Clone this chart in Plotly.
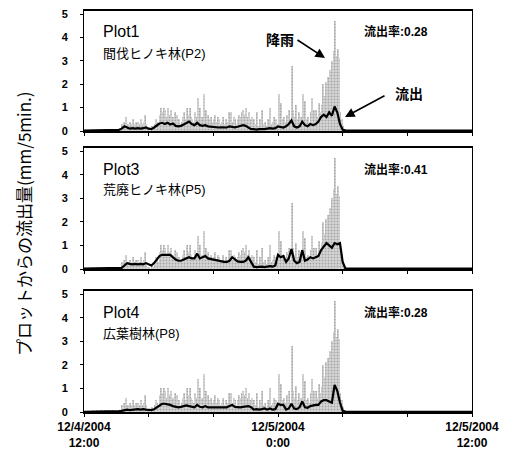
import numpy as np
import pandas as pd
import plotly.graph_objects as go

# ---------------- data ----------------
start = pd.Timestamp("2004-12-04 12:00")
end = pd.Timestamp("2004-12-05 12:00")

# rainfall, mm / 5 min, from 12/4 12:00 (5-minute steps)
rain = [
    0, 0, 0, 0, 0, 0, 0.1, 0, 0, 0.1, 0, 0,
    0.1, 0, 0, 0.1, 0, 0, 0.1, 0, 0, 0.1, 0, 0,
    0, 0, 0, 0.1, 0.3, 0.4, 0.2, 0.6, 0.3, 0.2, 0.4, 0.3,
    0.5, 0.3, 0.4, 0.2, 0.4, 0.3, 0.5, 0.3, 0.4, 0.7, 0.3, 0.1,
    0.1, 0, 0.2, 0.1, 0.3, 0.5, 0.4, 0.3, 0.7, 1.0, 0.8, 1.0,
    0.9, 0.6, 1.0, 0.7, 0.9, 0.5, 0.6, 0.8, 0.4, 0.7, 0.5, 0.3,
    0.4, 0.6, 0.8, 0.5, 1.0, 0.7, 1.0, 0.6, 0.5, 0.4, 0.8, 0.6,
    1.4, 0.8, 1.0, 0.6, 0.5, 1.6, 0.9, 0.6, 0.7, 0.5, 0.6, 0.4,
    0.5, 0.7, 0.4, 0.6, 0.5, 0.3, 0.4, 0.6, 0.3, 0.5, 0.4, 0.8,
    0.7, 0.8, 0.4, 0.6, 0.5, 0.3, 0.5, 0.7, 0.6, 0.8, 0.9, 0.7,
    1.0, 0.6, 0.8, 0.5, 0.6, 0.4, 0.5, 0.3, 0.8, 0.2, 0.5, 0.3,
    0.9, 0.3, 0.4, 0.2, 0.5, 0.3, 1.0, 0.3, 0.4, 0.6, 0.5, 0.3,
    1.6, 0.8, 1.2, 0.5, 0.6, 0.4, 0.7, 0.5, 0.9, 0.4, 2.8, 0.9,
    0.6, 1.1, 0.5, 0.8, 0.4, 0.6, 1.6, 0.9, 1.3, 0.5, 0.6, 0.4,
    0.8, 1.4, 0.9, 0.7, 0.9, 0.6, 1.2, 0.8, 1.1, 2.0, 1.5, 2.1,
    1.8, 2.3, 2.6, 1.9, 3.0, 3.4, 4.7, 3.2, 3.5, 3.1, 0.8, 0.5,
    0.2, 0.1, 0, 0, 0, 0,
]

# runoff, mm / 5 min, sampled every 10 minutes from 12/4 12:00
runoff_p2 = [
    0.02, 0.02, 0.02, 0.02, 0.03, 0.03,
    0.03, 0.03, 0.03, 0.04, 0.04, 0.04,
    0.04, 0.05, 0.10, 0.20, 0.15, 0.10,
    0.12, 0.10, 0.12, 0.10, 0.12, 0.15,
    0.10, 0.08, 0.15, 0.25, 0.32, 0.35,
    0.30, 0.35, 0.28, 0.32, 0.22, 0.20,
    0.22, 0.28, 0.35, 0.40, 0.30, 0.25,
    0.35, 0.25, 0.22, 0.25, 0.20, 0.18,
    0.18, 0.16, 0.15, 0.16, 0.15, 0.15,
    0.20, 0.18, 0.16, 0.18, 0.20, 0.25,
    0.22, 0.15, 0.08, 0.08, 0.06, 0.08,
    0.07, 0.08, 0.10, 0.12, 0.10, 0.12,
    0.20, 0.18, 0.15, 0.20, 0.30, 0.45,
    0.20, 0.15, 0.20, 0.40, 0.25, 0.20,
    0.30, 0.25, 0.30, 0.40, 0.60, 0.70,
    0.60, 0.80, 0.65, 1.05, 0.80, 0.30,
    0.05, 0.03, 0.02, 0.02, 0.02, 0.02,
    0.02, 0.02, 0.02, 0.02, 0.02, 0.02,
    0.02, 0.02, 0.02, 0.02, 0.02, 0.02,
    0.02, 0.02, 0.02, 0.02, 0.02, 0.02,
    0.02, 0.02, 0.02, 0.02, 0.02, 0.02,
    0.02, 0.02, 0.02, 0.02, 0.02, 0.02,
    0.02, 0.02, 0.02, 0.02, 0.02, 0.02,
    0.02, 0.02, 0.02, 0.02, 0.02, 0.02,
    0.02,
]
runoff_p5 = [
    0.02, 0.02, 0.02, 0.02, 0.02, 0.02,
    0.02, 0.02, 0.03, 0.03, 0.03, 0.03,
    0.03, 0.04, 0.05, 0.15, 0.25, 0.22,
    0.20, 0.22, 0.20, 0.22, 0.20, 0.25,
    0.20, 0.15, 0.25, 0.40, 0.55, 0.60,
    0.60, 0.58, 0.60, 0.50, 0.40, 0.35,
    0.35, 0.40, 0.45, 0.50, 0.45, 0.45,
    0.65, 0.45, 0.50, 0.55, 0.45, 0.42,
    0.40, 0.38, 0.35, 0.32, 0.30, 0.30,
    0.35, 0.50, 0.40, 0.32, 0.30, 0.30,
    0.35, 0.50, 0.30, 0.10, 0.08, 0.10,
    0.10, 0.08, 0.10, 0.12, 0.10, 0.15,
    0.60, 0.50, 0.55, 0.30, 0.45, 0.85,
    0.35, 0.25, 0.30, 0.80, 0.35, 0.40,
    0.50, 0.45, 0.50, 0.55, 0.80, 0.95,
    1.10, 1.00, 0.90, 1.10, 1.05, 1.10,
    0.30, 0.02, 0.02, 0.02, 0.02, 0.02,
    0.02, 0.02, 0.02, 0.02, 0.02, 0.02,
    0.02, 0.02, 0.02, 0.02, 0.02, 0.02,
    0.02, 0.02, 0.02, 0.02, 0.02, 0.02,
    0.02, 0.02, 0.02, 0.02, 0.02, 0.02,
    0.02, 0.02, 0.02, 0.02, 0.02, 0.02,
    0.02, 0.02, 0.02, 0.02, 0.02, 0.02,
    0.02, 0.02, 0.02, 0.02, 0.02, 0.02,
    0.02,
]
runoff_p8 = [
    0.01, 0.01, 0.01, 0.01, 0.02, 0.02,
    0.02, 0.02, 0.02, 0.02, 0.03, 0.03,
    0.03, 0.04, 0.05, 0.08, 0.10, 0.08,
    0.10, 0.10, 0.12, 0.10, 0.12, 0.10,
    0.10, 0.08, 0.12, 0.20, 0.30, 0.35,
    0.35, 0.33, 0.30, 0.25, 0.22, 0.20,
    0.22, 0.25, 0.28, 0.25, 0.22, 0.20,
    0.30, 0.22, 0.20, 0.25, 0.20, 0.20,
    0.20, 0.18, 0.18, 0.20, 0.18, 0.20,
    0.25, 0.30, 0.22, 0.20, 0.20, 0.22,
    0.22, 0.25, 0.20, 0.10, 0.12, 0.10,
    0.12, 0.15, 0.10, 0.15, 0.10, 0.12,
    0.35, 0.30, 0.30, 0.10, 0.15, 0.35,
    0.15, 0.12, 0.20, 0.45, 0.20, 0.18,
    0.25, 0.28, 0.30, 0.30, 0.45, 0.50,
    0.50, 0.45, 0.40, 1.15, 0.90, 0.40,
    0.05, 0.02, 0.01, 0.01, 0.01, 0.01,
    0.01, 0.01, 0.01, 0.01, 0.01, 0.01,
    0.01, 0.01, 0.01, 0.01, 0.01, 0.01,
    0.01, 0.01, 0.01, 0.01, 0.01, 0.01,
    0.01, 0.01, 0.01, 0.01, 0.01, 0.01,
    0.01, 0.01, 0.01, 0.01, 0.01, 0.01,
    0.01, 0.01, 0.01, 0.01, 0.01, 0.01,
    0.01, 0.01, 0.01, 0.01, 0.01, 0.01,
    0.01,
]

panel_titles = ["Plot1", "Plot3", "Plot4"]
panel_sites = ["間伐ヒノキ林(P2)", "荒廃ヒノキ林(P5)", "広葉樹林(P8)"]
runoff_ratios = ["0.28", "0.41", "0.28"]
runoffs = [runoff_p2, runoff_p5, runoff_p8]

y_ticks = [0, 1, 2, 3, 4, 5]
x_tick_labels = ["12/4/2004<br>12:00", "", "", "12/5/2004<br>0:00", "", "", "12/5/2004<br>12:00"]
y_title = "プロットからの流出量(mm/5min.)"

# ---------------- figure ----------------
W, H = 522, 455
L, R, T, B = 84, 50, 11, 43
PW, PH = W - L - R, H - T - B

def px(x):
    return (x - L) / PW

def py(y):
    return (H - B - y) / PH

FONT = "Liberation Sans, Arial, Noto Sans CJK JP, sans-serif"
rain_t = start + pd.to_timedelta(np.arange(len(rain)) * 5 + 2.5, unit="min")
runoff_t = pd.date_range(start, periods=len(runoff_p2), freq="10min")
tickvals = pd.date_range(start, end, freq="4h")

# panel pixel extents (top, bottom)
panels_px = [(11, 131), (148, 269), (291, 412)]

fig = go.Figure()
layout = dict(
    width=W, height=H,
    margin=dict(l=L, r=R, t=T, b=B),
    paper_bgcolor="white", plot_bgcolor="white",
    showlegend=False, bargap=0,
    font=dict(family=FONT, color="black"),
)

def label(x, y, text, size, bold=False, xanchor="left", family=FONT, **kw):
    f = dict(size=size, family=family)
    if bold:
        f["weight"] = "bold"
    return dict(x=px(x), y=py(y), xref="paper", yref="paper", text=text,
                showarrow=False, xanchor=xanchor, yanchor="middle", font=f, **kw)

annotations = []
for i in range(3):
    n = "" if i == 0 else str(i + 1)
    xa, ya = "x" + n, "y" + n
    fig.add_trace(go.Bar(
        x=rain_t, y=rain, xaxis=xa, yaxis=ya, width=300000,
        marker=dict(color="#d6d6d6", line=dict(width=0),
                    pattern=dict(shape=".", fgcolor="#7a7a7a", size=3, solidity=0.35)),
    ))
    fig.add_trace(go.Scatter(
        x=runoff_t, y=runoffs[i], xaxis=xa, yaxis=ya, mode="lines",
        line=dict(color="black", width=2.2),
    ))
    top, bot = panels_px[i]
    layout["xaxis" + n] = dict(
        domain=[0, 1], anchor=ya, range=[start, end], automargin=False,
        tickvals=tickvals, ticktext=x_tick_labels if i == 2 else [""] * 7,
        showticklabels=(i == 2), ticks="outside", ticklen=3, tickcolor="black",
        showline=True, linecolor="black", linewidth=1.5, mirror=True,
        showgrid=False, zeroline=False,
        tickfont=dict(size=12, weight="bold", family=FONT),
    )
    layout["yaxis" + n] = dict(
        domain=[py(bot), py(top)], anchor=xa, range=[0, 5.13], automargin=False,
        tickvals=y_ticks, ticks="outside", ticklen=3, tickcolor="black",
        showline=True, linecolor="black", linewidth=1, mirror=True,
        showgrid=False, zeroline=False, ticklabelstandoff=10,
        tickfont=dict(size=11, weight="bold", family=FONT),
    )
    annotations.append(label(101, top + 21, panel_titles[i], 16))
    annotations.append(label(101, top + 42, panel_sites[i], 13))
    annotations.append(label(362, top + 21, "流出率:" + runoff_ratios[i], 12, bold=True))

# 降雨 / 流出 pointers in panel 1 (arrow tails given as pixel offsets)
annotations.append(dict(x=px(325), y=py(58), ax=-29, ay=-19, xref="paper", yref="paper",
                        text="", showarrow=True,
                        arrowhead=2, arrowsize=1.2, arrowwidth=1.6, arrowcolor="black"))
annotations.append(label(280, 40, "降雨", 14, bold=True, xanchor="center"))
annotations.append(dict(x=px(345), y=py(117), ax=41, ay=-22, xref="paper", yref="paper",
                        text="", showarrow=True,
                        arrowhead=2, arrowsize=1.2, arrowwidth=1.6, arrowcolor="black"))
annotations.append(label(409, 94, "流出", 14, bold=True, xanchor="center"))
# y axis title
annotations.append(label(23, 224, y_title, 17, xanchor="center",
                         family="Noto Sans CJK JP, sans-serif", textangle=-90))
layout["annotations"] = annotations
fig.update_layout(**layout)
fig.write_html("out.html")
